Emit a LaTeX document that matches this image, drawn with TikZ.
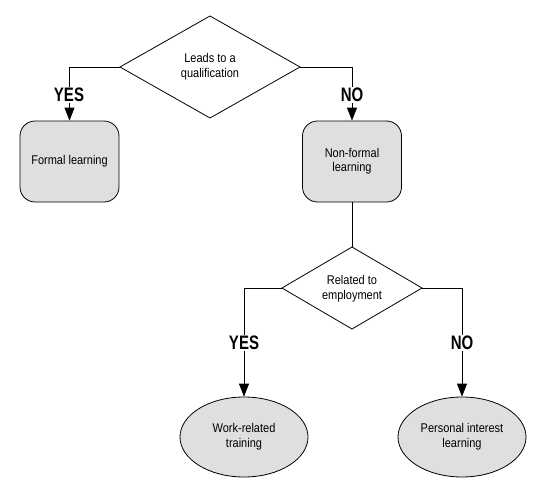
\documentclass[tikz,border=0pt]{standalone}
\usepackage{fontspec}
\setmainfont{Liberation Sans}
\usetikzlibrary{shapes.geometric,arrows.meta}
\newcommand{\tallt}[1]{\scalebox{1}[1.15]{\begin{tabular}{@{}c@{}}#1\end{tabular}}}
\newcommand{\talll}[1]{\scalebox{1}[1.3]{#1}}
\begin{document}
\begin{tikzpicture}[x=1pt,y=-1pt,
  every node/.style={font=\fontsize{11}{13}\selectfont, align=center, inner sep=0pt},
  rbox/.style={draw, fill=gray!25, rounded corners=15pt, minimum width=99pt, minimum height=81pt, line width=0.8pt},
  oval/.style={draw, fill=gray!25, ellipse, minimum width=128pt, minimum height=80pt, line width=0.8pt},
  lbl/.style={font=\bfseries\fontsize{15}{18}\selectfont, fill=white, inner sep=1pt},
  conn/.style={line width=0.8pt},
  arr/.style={conn, -{Triangle[width=10pt,length=13pt]}}]
\useasboundingbox (0,0) rectangle (553,500);
% diamond 1
\draw[conn] (120,67) coordinate (d1w) -- (210,16) coordinate (d1n) -- (300,67) coordinate (d1e) -- (210,118) coordinate (d1s) -- cycle;
\node (d1) at (210,67) {\tallt{Leads to a\\qualification}};
\node[rbox] (formal) at (69.5,161.5) {\tallt{Formal learning}};
\node[rbox] (nonformal) at (352,161.5) {\tallt{Non-formal\\learning}};
% diamond 2
\draw[conn] (282,288) coordinate (d2w) -- (352,247) coordinate (d2n) -- (422,288) coordinate (d2e) -- (352,329) coordinate (d2s) -- cycle;
\node (d2) at (352,289) {\tallt{Related to\\employment}};
\node[oval] (work) at (244,437) {\tallt{Work-related\\training}};
\node[oval] (personal) at (462,437) {\tallt{Personal interest\\learning}};
% connectors
\draw[arr] (d1w) -| (formal.north);
\draw[arr] (d1e) -| (nonformal.north);
\draw[conn] (nonformal.south) -- (d2n);
\draw[arr] (d2w) -| (work.north);
\draw[arr] (d2e) -| (personal.north);
% labels
\node[lbl] (yes1) at (69,95) {\talll{YES}};
\node[lbl] (no1) at (352,95) {\talll{NO}};
\node[lbl] (yes2) at (244,343) {\talll{YES}};
\node[lbl] (no2) at (462,343) {\talll{NO}};
\end{tikzpicture}
\end{document}
